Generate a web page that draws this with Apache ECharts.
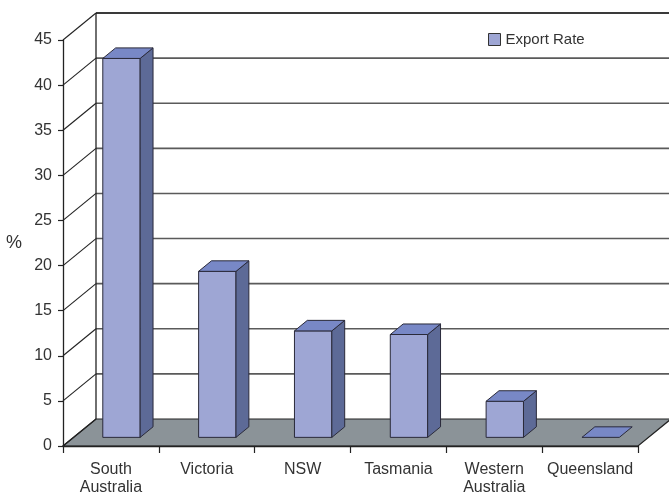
<!DOCTYPE html>
<html>
<head>
<meta charset="utf-8">
<script src="https://cdn.jsdelivr.net/npm/echarts@6/dist/echarts.min.js"></script>
<style>html,body{margin:0;padding:0;background:#fff}#c{width:669px;height:497px}</style>
</head>
<body>
<div id="c"></div>
<script>
// ---- data ----
const categories = ['South\nAustralia', 'Victoria', 'NSW', 'Tasmania', 'Western\nAustralia', 'Queensland'];
const exportRate = [42.0, 18.4, 11.8, 11.4, 4.0, 0];
const yTicks = [0, 5, 10, 15, 20, 25, 30, 35, 40, 45];
const seriesName = 'Export Rate';

// ---- 3D projection style ----
const DEPTH = [33, -27];
const F1 = 0.32, F2 = 0.71;
const BAR_W = 0.39;
const FRONT = '#9ea6d4', SIDE = '#5d6a97', TOP = '#7888c6';
const FLOOR = '#8b9398', LINE = '#222';
const FONT = 'Liberation Sans, Arial, sans-serif';

const chart = echarts.init(document.getElementById('c'));

function frameRender(params, api) {
  const cs = params.coordSys;
  const x0 = cs.x, x1 = cs.x + cs.width;
  const ch = [];
  const dx = DEPTH[0], dy = DEPTH[1];
  const y0 = api.coord([0, 0])[1];
  const yTop = api.coord([0, yTicks[yTicks.length - 1]])[1];
  ch.push({type: 'polygon', shape: {points: [[x0, y0], [x1, y0], [x1 + dx, y0 + dy], [x0 + dx, y0 + dy]]},
    style: {fill: FLOOR, stroke: LINE, lineWidth: 1.2}});
  yTicks.forEach(function (v) {
    const y = api.coord([0, v])[1];
    if (v > 0) {
      ch.push({type: 'line', shape: {x1: x0 + dx, y1: y + dy, x2: x1 + dx + 5, y2: y + dy},
        style: {stroke: '#5a5a5a', lineWidth: 1.6}});
    }
    ch.push({type: 'line', shape: {x1: x0, y1: y, x2: x0 + dx, y2: y + dy},
      style: {stroke: LINE, lineWidth: 1.1}});
  });
  ch.push({type: 'line', shape: {x1: x0 + dx, y1: y0 + dy, x2: x0 + dx, y2: yTop + dy},
    style: {stroke: LINE, lineWidth: 1.3}});
  ch.push({type: 'line', shape: {x1: x0 + dx, y1: yTop + dy, x2: x1 + dx + 5, y2: yTop + dy},
    style: {stroke: LINE, lineWidth: 1.5}});
  return {type: 'group', children: ch, silent: true};
}

function barRender(params, api) {
  const idx = api.value(0), val = api.value(1);
  const base = api.coord([idx, 0]);
  const top = api.coord([idx, val]);
  const w = api.size([1, 0])[0] * BAR_W;
  const ax = DEPTH[0] * F1, ay = DEPTH[1] * F1;
  const bx = DEPTH[0] * F2, by = DEPTH[1] * F2;
  const xl = base[0] - w / 2 + ax, xr = base[0] + w / 2 + ax;
  const yb = base[1] + ay, yt = top[1] + ay;
  const ddx = bx - ax, ddy = by - ay;
  const st = {stroke: '#2a2a3a', lineWidth: 1, lineJoin: 'round'};
  const ch = [];
  if (yb - yt > 0.5) {
    ch.push({type: 'polygon', shape: {points: [[xl, yt], [xr, yt], [xr, yb], [xl, yb]]},
      style: Object.assign({fill: FRONT}, st)});
    ch.push({type: 'polygon', shape: {points: [[xr, yt], [xr + ddx, yt + ddy], [xr + ddx, yb + ddy], [xr, yb]]},
      style: Object.assign({fill: SIDE}, st)});
  }
  ch.push({type: 'polygon', shape: {points: [[xl, yt], [xr, yt], [xr + ddx, yt + ddy], [xl + ddx, yt + ddy]]},
    style: Object.assign({fill: TOP}, st)});
  return {type: 'group', children: ch};
}

const option = {
  backgroundColor: '#fff',
  animation: false,
  textStyle: {fontFamily: FONT},
  grid: {left: 63, right: 31, top: 40, bottom: 50, containLabel: false},
  legend: {
    data: [{name: seriesName, icon: 'rect'}],
    left: 483, top: 27, itemWidth: 12, itemHeight: 12, itemGap: 6,
    itemStyle: {borderColor: '#333', borderWidth: 1},
    textStyle: {fontSize: 15, color: '#333', fontFamily: FONT}
  },
  xAxis: {
    type: 'category', data: categories, z: 10,
    axisLine: {show: true, lineStyle: {color: LINE, width: 1.3}},
    axisTick: {show: true, length: 7, lineStyle: {color: LINE, width: 1.2}},
    axisLabel: {fontSize: 16, color: '#333', margin: 15, lineHeight: 18, interval: 0},
    splitLine: {show: false}
  },
  yAxis: {
    type: 'value', min: 0, max: 45, interval: 5, z: 10,
    name: '%', nameLocation: 'middle', nameGap: 41, nameRotate: 0,
    nameTextStyle: {fontSize: 18, color: '#333'},
    axisLine: {show: true, lineStyle: {color: LINE, width: 1.3}},
    axisTick: {show: true, length: 5, lineStyle: {color: LINE, width: 1.2}},
    axisLabel: {fontSize: 16, color: '#333', margin: 11},
    splitLine: {show: false}
  },
  series: [
    {type: 'custom', name: 'frame', renderItem: frameRender, data: [[0, 0]], z: 1, silent: true, clip: false},
    {type: 'custom', name: seriesName, renderItem: barRender, z: 3, clip: false,
      itemStyle: {color: FRONT},
      encode: {x: 0, y: 1},
      data: exportRate.map(function (v, i) { return [i, v]; })}
  ]
};
chart.setOption(option);
</script>
</body>
</html>
